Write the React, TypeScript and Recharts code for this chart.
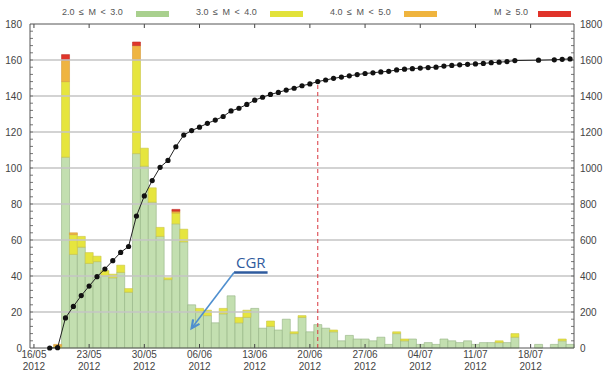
import React from "react";
import {
  ComposedChart,
  Bar,
  Line,
  XAxis,
  YAxis,
  ReferenceLine,
} from "recharts";

const _ = null;

// one entry per day, 16/05/2012 .. 23/07/2012
const dates = [
  "16/05", "17/05", "18/05", "19/05", "20/05", "21/05", "22/05", "23/05", "24/05", "25/05",
  "26/05", "27/05", "28/05", "29/05", "30/05", "31/05", "01/06", "02/06", "03/06", "04/06",
  "05/06", "06/06", "07/06", "08/06", "09/06", "10/06", "11/06", "12/06", "13/06", "14/06",
  "15/06", "16/06", "17/06", "18/06", "19/06", "20/06", "21/06", "22/06", "23/06", "24/06",
  "25/06", "26/06", "27/06", "28/06", "29/06", "30/06", "01/07", "02/07", "03/07", "04/07",
  "05/07", "06/07", "07/07", "08/07", "09/07", "10/07", "11/07", "12/07", "13/07", "14/07",
  "15/07", "16/07", "17/07", "18/07", "19/07", "20/07", "21/07", "22/07", "23/07",
];

// daily counts per magnitude class
const m2 = [
  _, _, _, _, 106, 52, 56, 47, 48, 40, 39, 42, 31, 108, 101, 81, 62, 38, 69, 59,
  24, 20, 18, 14, 19, 29, 14, 17, 22, 11, 12, 10, 16, 8, 17, 9,
  13, 11, 9, 4, 7, 5, 5, 4, 6, 2, 8, 4, 5, 2, 3, 2,
  5, 4, 3, 4, 2, 3, 3, 3, 3, 6, _, _, 2, _, 2, 4, 2,
];
const m3 = [
  _, _, _, 1, 42, 11, 6, 6, 3, 3, 2, 4, 2, 52, 10, 8, 5, 1, 6, 7,
  _, 2, 3, _, 3, _, 3, 4, _, _, 3, _, _, 1, 1, _, _, _, 1,
  _, _, _, _, _, _, _, 1, 1,
  _, _, _, _, _, _, _, _, _, _, _, 1, _, 2, _, _, _, _, _, 1, _,
];
const m4 = [
  _, _, _, 1, 12, 1, _, _, _, _, _, _, _, 8, _, _, _, _, 1, _,
  _, _, _, _, _, _, _, _, _, _, _, _, _, _, _, _, _, _, _, _,
  _, _, _, _, _, _, _, _, _, _, _, _, _, _, _, _, _, _, _, _,
  _, _, _, _, _, _, _, _, _,
];
const m5 = [
  _, _, _, _, 3, _, _, _, _, _, _, _, _, 2, _, _, _, _, 1, _,
  _, _, _, _, _, _, _, _, _, _, _, _, _, _, _, _, _, _, _, _,
  _, _, _, _, _, _, _, _, _, _, _, _, _, _, _, _, _, _, _, _,
  _, _, _, _, _, _, _, _, _,
];
// cumulative number of events (right axis)
const cumulative = [
  _, _, 0, 2, 167, 231, 291, 344, 396, 439, 485, 531, 564, 733, 845, 930, 1004, 1042, 1118, 1183,
  1208, 1227, 1248, 1266, 1286, 1317, 1332, 1353, 1377, 1393, 1409, 1420, 1433, 1443, 1457, 1467,
  1480, 1489, 1498, 1505, 1512, 1519, 1525, 1529, 1534, 1537, 1545, 1549, 1552, 1555, 1558, 1560,
  1566, 1570, 1573, 1576, 1578, 1581, 1585, 1588, 1591, 1597, _, _, 1599, _, 1601, 1604, 1606,
];

const weekTicks = ["16/05", "23/05", "30/05", "06/06", "13/06", "20/06", "27/06", "04/07", "11/07", "18/07"];
const year = "2012";
const leftTicks = [0, 20, 40, 60, 80, 100, 120, 140, 160, 180];
const rightTicks = [0, 200, 400, 600, 800, 1000, 1200, 1400, 1600, 1800];
const minorTicks = Array.from({ length: 44 }, (_v, i) => (i + 1) * 4);
const gridValues = [20, 40, 60, 80, 100, 120, 140, 160];

const markerDay = "21/06";
const markerTop = 1480;
const cgrLabel = "CGR";
const cgrFrom = { x: "10/06", y: 42 };
const cgrTo = { x: "05/06", y: 11 };
const cgrLineEnd = { x: "14/06", y: 42 };

const legendItems = [
  { label: "2.0 ≤ M < 3.0", color: "#a9d08e", left: 62, swatch: 136 },
  { label: "3.0 ≤ M < 4.0", color: "#e2e23a", left: 196, swatch: 270 },
  { label: "4.0 ≤ M < 5.0", color: "#efb43e", left: 330, swatch: 404 },
  { label: "M ≥ 5.0", color: "#e0332a", left: 494, swatch: 538 },
];

const data = dates.map((date, i) => ({
  date,
  m2: m2[i],
  m3: m3[i],
  m4: m4[i],
  m5: m5[i],
  cum: cumulative[i],
}));

const FONT = "'Liberation Sans', Arial, sans-serif";
const AXIS = "#555";

function DateTick({ x, y, payload }: any) {
  return (
    <text x={x} y={y} textAnchor="middle" fontSize={10} fill="#444" fontFamily={FONT}>
      <tspan x={x} dy={9.5}>{payload.value}</tspan>
      <tspan x={x} dy={12.5}>{year}</tspan>
    </text>
  );
}

// short inward tick marks at both ends of a reference line
function edgeTicks(len: number, color: string) {
  return (props: any) => {
    const { x1, y1, x2, y2 } = props;
    const dx = Math.sign(x2 - x1);
    const dy = Math.sign(y2 - y1);
    return (
      <g>
        <line x1={x1} y1={y1} x2={x1 + dx * len} y2={y1 + dy * len} stroke={color} strokeWidth={1} />
        <line x1={x2} y1={y2} x2={x2 - dx * len} y2={y2 - dy * len} stroke={color} strokeWidth={1} />
      </g>
    );
  };
}
const MinorTick = edgeTicks(3, "#777");
const WeekTick = edgeTicks(4, "#444");

function Arrow(props: any) {
  const { x1, y1, x2, y2 } = props;
  const ang = Math.atan2(y2 - y1, x2 - x1);
  const len = 9;
  const a1 = ang + Math.PI - 0.45;
  const a2 = ang + Math.PI + 0.45;
  return (
    <g>
      <line x1={x1 + 3} y1={y1} x2={x2} y2={y2} stroke="#4f8fcf" strokeWidth={1.6} />
      <polyline
        points={`${x2 + len * Math.cos(a1)},${y2 + len * Math.sin(a1)} ${x2},${y2} ${x2 + len * Math.cos(a2)},${y2 + len * Math.sin(a2)}`}
        fill="none"
        stroke="#4f8fcf"
        strokeWidth={2.2}
      />
    </g>
  );
}

function Underline(props: any) {
  const { x1, y1, x2 } = props;
  return (
    <g>
      <line x1={x1 + 3} y1={y1} x2={x2 + 5} y2={y1} stroke="#2f5b9e" strokeWidth={2.5} />
      <text x={(x1 + x2) / 2 + 4} y={y1 - 4} textAnchor="middle" fontSize={15} fill="#2f5b9e" fontFamily="'Open Sans', sans-serif">
        {cgrLabel}
      </text>
    </g>
  );
}

export default function App() {
  return (
    <div style={{ position: "absolute", left: 0, top: 0, width: 609, height: 376, background: "#fff" }}>
      {legendItems.map((it) => (
        <React.Fragment key={it.label}>
          <span
            style={{
              position: "absolute",
              left: it.left,
              top: 7,
              fontSize: 9,
              fontFamily: FONT,
              color: "#555",
              wordSpacing: 2,
              whiteSpace: "nowrap",
            }}
          >
            {it.label}
          </span>
          <span style={{ position: "absolute", left: it.swatch, top: 11, width: 33, height: 6, background: it.color }} />
        </React.Fragment>
      ))}
      <ComposedChart
        width={609}
        height={376}
        data={data}
        margin={{ top: 24, right: 0, bottom: 0, left: 0 }}
        barCategoryGap={0}
        barGap={0}
      >
        <XAxis
          dataKey="date"
          ticks={weekTicks}
          interval={0}
          height={28}
          tickLine={false}
          tickSize={0}
          tickMargin={0}
          axisLine={{ stroke: AXIS }}
          tick={<DateTick />}
        />
        <YAxis
          yAxisId="left"
          domain={[0, 180]}
          ticks={leftTicks}
          width={30}
          tickLine={false}
          tickSize={0}
          tickMargin={8}
          axisLine={{ stroke: AXIS }}
          tick={{ fontSize: 10, fill: "#444", fontFamily: FONT }}
        />
        <YAxis
          yAxisId="right"
          orientation="right"
          domain={[0, 1800]}
          ticks={rightTicks}
          width={35}
          tickLine={false}
          tickSize={0}
          tickMargin={6}
          axisLine={{ stroke: AXIS }}
          tick={{ fontSize: 10, fill: "#444", fontFamily: FONT, textAnchor: "start" }}
        />
        <Bar yAxisId="left" dataKey="m2" stackId="m" fill="#c3dfb0" stroke="#93b283" strokeWidth={0.6} isAnimationActive={false} />
        <Bar yAxisId="left" dataKey="m3" stackId="m" fill="#e6e53e" stroke="#c9c54a" strokeWidth={0.6} isAnimationActive={false} />
        <Bar yAxisId="left" dataKey="m4" stackId="m" fill="#efb441" stroke="#d59a3a" strokeWidth={0.6} isAnimationActive={false} />
        <Bar yAxisId="left" dataKey="m5" stackId="m" fill="#e0352a" stroke="#c0302a" strokeWidth={0.6} isAnimationActive={false} />
        {gridValues.map((v) => (
          <ReferenceLine key={`g${v}`} yAxisId="left" y={v} stroke="#c4c4c4" strokeWidth={1.5} />
        ))}
        {minorTicks.map((v) => (
          <ReferenceLine key={`m${v}`} yAxisId="left" y={v} shape={MinorTick} />
        ))}
        {weekTicks.map((d) => (
          <ReferenceLine key={`w${d}`} yAxisId="left" x={d} shape={WeekTick} />
        ))}
        <ReferenceLine yAxisId="left" y={180} stroke={AXIS} strokeWidth={1} />
        <ReferenceLine
          yAxisId="right"
          segment={[{ x: markerDay, y: 0 }, { x: markerDay, y: markerTop }]}
          stroke="#d9363e"
          strokeDasharray="4 3"
          strokeWidth={1}
        />
        <Line
          yAxisId="right"
          dataKey="cum"
          stroke="#222"
          strokeWidth={1}
          connectNulls
          dot={{ r: 2.6, fill: "#111", stroke: "none" }}
          isAnimationActive={false}
        />
        <ReferenceLine yAxisId="left" segment={[cgrFrom, cgrLineEnd]} shape={Underline} />
        <ReferenceLine yAxisId="left" segment={[cgrFrom, cgrTo]} shape={Arrow} />
      </ComposedChart>
    </div>
  );
}
